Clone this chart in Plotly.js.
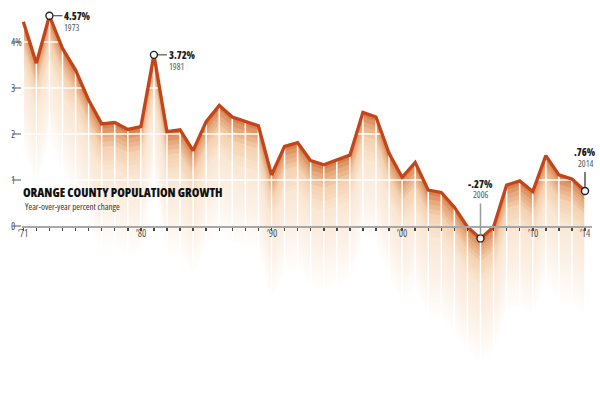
<!DOCTYPE html>
<html>
<head>
<meta charset="utf-8">
<script src="https://cdn.plot.ly/plotly-3.0.1.min.js"></script>
<style>html,body{margin:0;padding:0;background:#fff;}#chart{width:600px;height:398px;}
text,tspan{font-stretch:condensed !important;}
</style>
</head>
<body>
<div id="chart"></div>
<script>
// ---- data ----
const years = [1971,1972,1973,1974,1975,1976,1977,1978,1979,1980,
               1981,1982,1983,1984,1985,1986,1987,1988,1989,1990,
               1991,1992,1993,1994,1995,1996,1997,1998,1999,2000,
               2001,2002,2003,2004,2005,2006,2007,2008,2009,2010,
               2011,2012,2013,2014];
const growth = [4.44,3.54,4.57,3.86,3.39,2.74,2.22,2.25,2.10,2.16,
                3.72,2.05,2.09,1.64,2.27,2.62,2.37,2.27,2.18,1.11,
                1.73,1.81,1.42,1.33,1.43,1.54,2.47,2.37,1.58,1.06,
                1.38,0.78,0.73,0.41,-0.02,-0.27,-0.02,0.89,0.98,0.75,
                1.53,1.11,1.02,0.76];
const xLabelYears = [1971,1980,1990,2000,2010,2014];
const xLabelText  = ["\u201971","\u201980","\u201990","\u201900","\u201910","\u201914"];
const yTickVals   = [0,1,2,3,4];
const yTickText   = ["0","1","2","3","4%"];
const hlYears     = [1973,1981,2006,2014];
const hlValueText = ["4.57%","3.72%","-.27%",".76%"];
const titleText    = "ORANGE COUNTY POPULATION GROWTH";
const subtitleText = "Year-over-year percent change";

// ---- style ----
const condensed = '"Open Sans","Roboto",sans-serif';
const lineColor = '#c3461b';
const stops = [[0,[214,132,82]],[0.2,[231,170,126]],[0.5,[244,210,178]],[1.0,[250,231,212]],[1.8,[252,241,231]],[2.4,[254,250,246]],[2.7,[255,255,255]]];
function colorAt(d){
  for(let i=1;i<stops.length;i++){
    if(d<=stops[i][0]){
      const a=stops[i-1],b=stops[i],t=(d-a[0])/(b[0]-a[0]);
      const c=a[1].map((v,j)=>Math.round(v+(b[1][j]-v)*t));
      return 'rgb('+c.join(',')+')';
    }
  }
  return 'rgb(255,255,255)';
}

const traces = [];
const step = 0.1, nBands = 27;
const revYears = years.slice().reverse();
for(let k=nBands;k>=1;k--){
  const d = k*step;
  const lower = growth.map(v=>v-d).reverse();
  traces.push({x: years.concat(revYears), y: growth.concat(lower), mode:'lines', fill:'toself',
    fillcolor: colorAt(d-step), line:{width:0}, hoverinfo:'skip', showlegend:false});
}
const gx=[],gy=[];
years.forEach(yr=>{gx.push(yr,yr,null);gy.push(-4,5,null);});
traces.push({x:gx,y:gy,mode:'lines',line:{color:'#fff',width:1.5},hoverinfo:'skip',showlegend:false});
const hx=[],hy=[];
yTickVals.filter(v=>v>0).forEach(v=>{hx.push(1970,2015,null);hy.push(v,v,null);});
traces.push({x:hx,y:hy,mode:'lines',line:{color:'#fff',width:1.5},hoverinfo:'skip',showlegend:false});
traces.push({x:years,y:growth,mode:'lines',line:{color:lineColor,width:3.3},hoverinfo:'skip',showlegend:false});
const hlVals = hlYears.map(y=>growth[years.indexOf(y)]);
traces.push({x:hlYears,y:hlVals,mode:'markers',marker:{symbol:'circle',size:7,color:'#fff',line:{color:'#222',width:1.4}},hoverinfo:'skip',showlegend:false,cliponaxis:false});

const valFont = {family:condensed,size:10,color:'#1a1a1a',weight:800};
const yrFont  = {family:condensed,size:9,color:'#555'};
const annotations = [];
[0,1].forEach(i=>{
  annotations.push({x:hlYears[i],y:hlVals[i],xref:'x',yref:'y',text:hlValueText[i],showarrow:true,arrowhead:0,arrowwidth:1,arrowcolor:'#333',ax:13,ay:0,xanchor:'left',yanchor:'middle',standoff:4,font:valFont});
  annotations.push({x:hlYears[i],y:hlVals[i],xref:'x',yref:'y',text:String(hlYears[i]),showarrow:false,xanchor:'left',yanchor:'middle',xshift:13,yshift:-12,font:yrFont});
});
[[2,-35,54,'#9a9a9a'],[3,-19,39,'#555']].forEach(([i,ay,ys,col])=>{
  annotations.push({x:hlYears[i],y:hlVals[i],xref:'x',yref:'y',text:String(hlYears[i]),showarrow:true,arrowhead:0,arrowwidth:1.5,arrowcolor:col,ax:0,ay:ay,xanchor:'center',yanchor:'bottom',standoff:4,font:yrFont});
  annotations.push({x:hlYears[i],y:hlVals[i],xref:'x',yref:'y',text:hlValueText[i],showarrow:false,xanchor:'center',yanchor:'middle',yshift:ys,font:valFont});
});
yTickVals.forEach((v,i)=>{
  annotations.push({x:-0.0228,y:v,xref:'paper',yref:'y',text:yTickText[i],showarrow:false,xanchor:'left',yanchor:'middle',font:{family:condensed,size:10,color:'#555'}});
});
xLabelYears.forEach((yr,i)=>{
  annotations.push({x:yr,y:0,xref:'x',yref:'y',text:xLabelText[i],showarrow:false,xanchor:'center',yanchor:'middle',yshift:-7,font:{family:condensed,size:10,color:'#555'}});
});
annotations.push({x:0.002,y:0.4779,xref:'paper',yref:'paper',text:subtitleText,showarrow:false,xanchor:'left',yanchor:'middle',font:{family:condensed,size:9,color:'#333'}});

const layout = {
  width:600,height:398,
  margin:{l:22,r:8,t:5,b:8},
  paper_bgcolor:'#fff',plot_bgcolor:'#fff',
  showlegend:false,
  title:{text:titleText,x:0.0383,xref:'container',xanchor:'left',y:0.515,yanchor:'middle',
         font:{family:condensed,size:12.3,color:'#111',weight:800}},
  xaxis:{range:[1970.9,2014.536],anchor:'free',position:0.4234,showline:true,linecolor:'#a8a8a8',linewidth:2,
         tickvals:xLabelYears,ticks:'outside',ticklen:3,tickwidth:1.5,tickcolor:'#444',showticklabels:false,
         minor:{dtick:1,tick0:1971,ticks:'outside',ticklen:3,tickwidth:1.5,tickcolor:'#444',showgrid:false},
         showgrid:false,zeroline:false,layer:'above traces'},
  yaxis:{range:[-3.565,4.804],showgrid:false,zeroline:false,showline:false,ticks:'outside',tickvals:yTickVals,
         ticklen:9,tickwidth:1.5,tickcolor:'#aaa',showticklabels:false},
  annotations:annotations
};
Plotly.newPlot('chart',traces,layout,{displayModeBar:false,staticPlot:true});
</script>
</body>
</html>
